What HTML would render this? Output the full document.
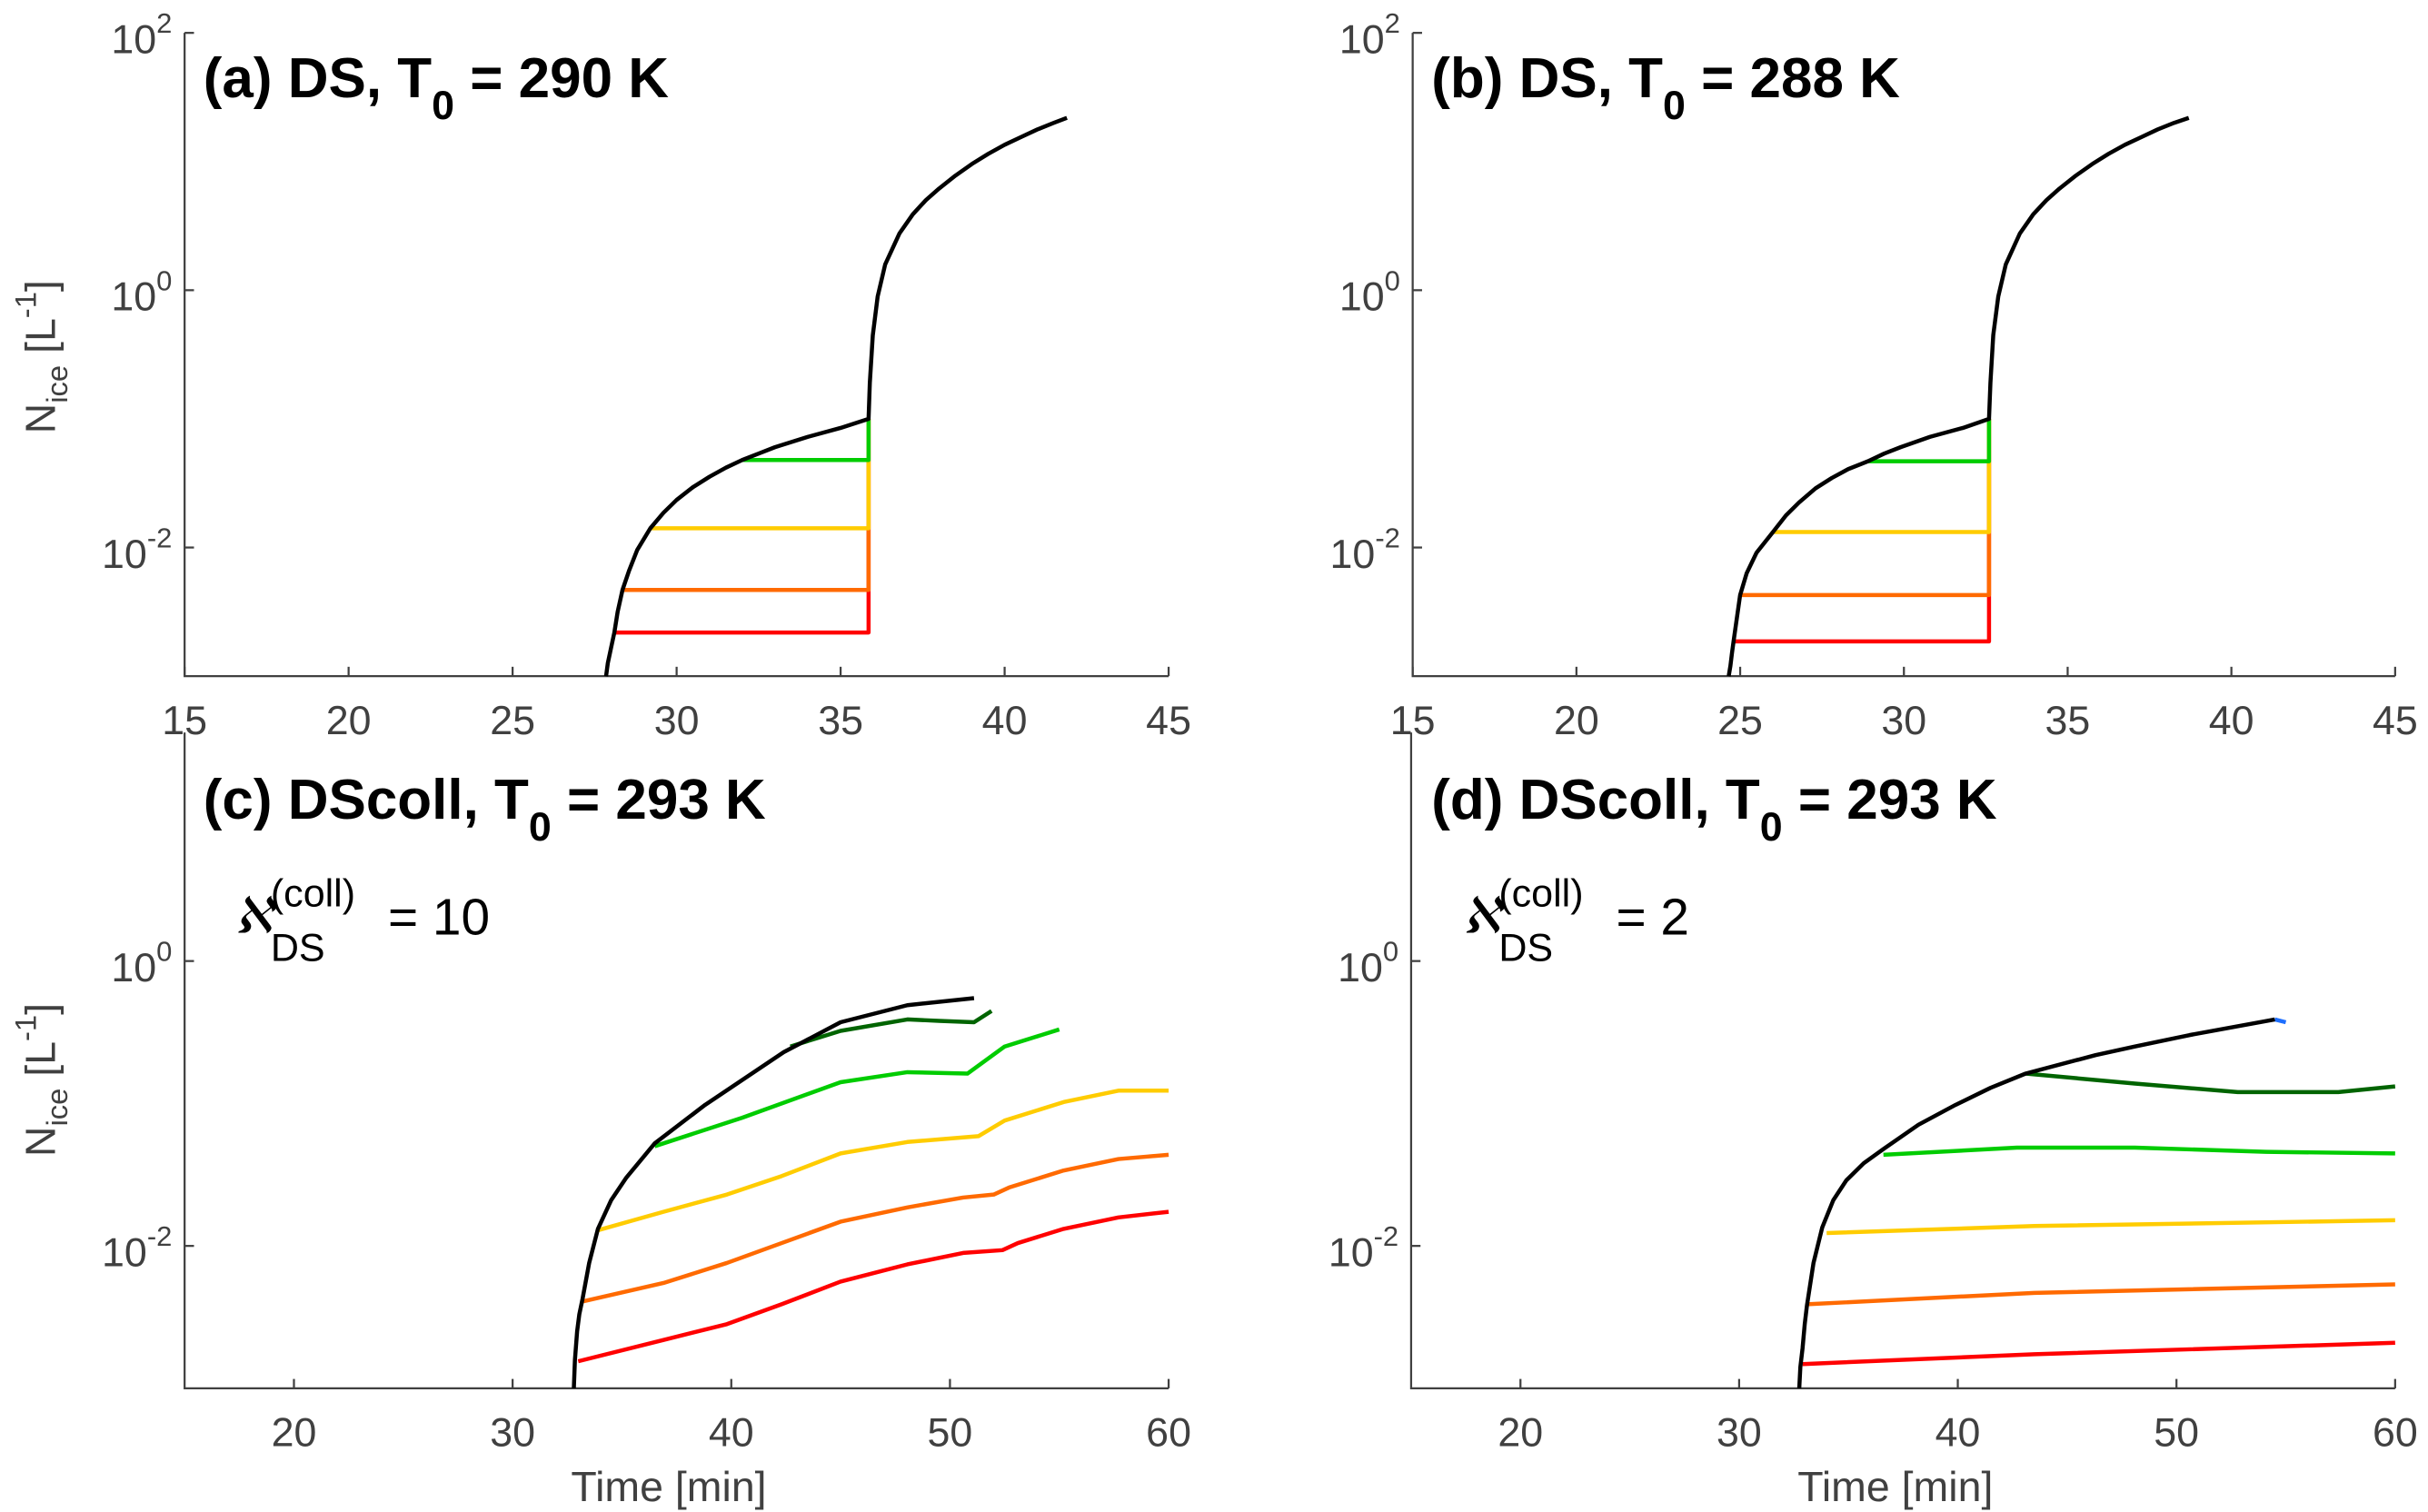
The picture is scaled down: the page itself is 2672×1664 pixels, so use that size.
<!DOCTYPE html>
<html><head><meta charset="utf-8"><style>
html,body{margin:0;padding:0;background:#fff;}
svg{display:block;}
text{font-family:"Liberation Sans",sans-serif;}
</style></head><body>
<svg id="fig" width="2672" height="1664" viewBox="0 0 1552 966" preserveAspectRatio="none" xmlns="http://www.w3.org/2000/svg"></svg>
<script>
// ---- data ----
const colors = ["#ff0000","#ff6a00","#ffcc00","#00cc00","#006400","#000000"];
// panel a
const aRedT=[28.1,35.85,35.85], aRedV=[-2.66,-2.66,-1.0];
const aOrT=[28.35,35.85,35.85], aOrV=[-2.33,-2.33,-1.0];
const aYeT=[29.2,35.85,35.85], aYeV=[-1.85,-1.85,-1.0];
const aGrT=[32.0,35.85,35.85], aGrV=[-1.32,-1.32,-1.0];
const aBkT=[27.85,27.9,28.0,28.1,28.2,28.35,28.55,28.8,29.2,29.6,30,30.5,31,31.5,32,32.5,33,34,35,35.85,35.89,35.98,36.13,36.36,36.79,37.2,37.6,38,38.5,39,39.5,40,40.5,41,41.5,41.9];
const aBkV=[-3,-2.9,-2.78,-2.66,-2.5,-2.33,-2.18,-2.02,-1.85,-1.73,-1.63,-1.53,-1.45,-1.38,-1.32,-1.27,-1.22,-1.14,-1.07,-1.0,-0.72,-0.35,-0.05,0.2,0.44,0.59,0.7,0.79,0.89,0.98,1.06,1.13,1.19,1.25,1.3,1.34];
// panel b
const bRedT=[24.8,32.6,32.6], bRedV=[-2.73,-2.73,-1.0];
const bOrT=[25.0,32.6,32.6], bOrV=[-2.37,-2.37,-1.0];
const bYeT=[26.0,32.6,32.6], bYeV=[-1.88,-1.88,-1.0];
const bGrT=[28.9,32.6,32.6], bGrV=[-1.33,-1.33,-1.0];
const bBkT=[24.65,24.7,24.75,24.8,24.9,25.0,25.2,25.5,26.0,26.4,26.8,27.3,27.8,28.3,28.9,29.4,29.9,30.8,31.8,32.6,32.64,32.73,32.88,33.11,33.54,33.95,34.35,34.75,35.25,35.75,36.25,36.75,37.25,37.75,38.25,38.7];
const bBkV=[-3,-2.92,-2.82,-2.73,-2.55,-2.37,-2.2,-2.04,-1.88,-1.75,-1.65,-1.54,-1.46,-1.39,-1.33,-1.27,-1.22,-1.14,-1.07,-1.0,-0.72,-0.35,-0.05,0.2,0.44,0.59,0.7,0.79,0.89,0.98,1.06,1.13,1.19,1.25,1.3,1.34];
// panel c
const cRedT=[33.0,36.9,39.8,42.3,45.0,48.05,50.6,52.4,53.1,55.2,57.7,60], cRedV=[-2.81,-2.66,-2.55,-2.41,-2.25,-2.13,-2.05,-2.03,-1.98,-1.88,-1.80,-1.76];
const cOrT=[33.2,36.9,39.8,42.3,45.0,48.05,50.6,52.0,52.7,55.2,57.7,60], cOrV=[-2.39,-2.26,-2.12,-1.98,-1.83,-1.73,-1.66,-1.64,-1.59,-1.47,-1.39,-1.36];
const cYeT=[33.9,36.9,39.8,42.3,45.0,48.05,51.3,52.5,55.2,57.7,60], cYeV=[-1.89,-1.76,-1.64,-1.51,-1.35,-1.27,-1.23,-1.12,-0.99,-0.91,-0.91];
const cGrT=[36.5,40.5,45.0,48.05,50.8,52.5,55.0], cGrV=[-1.30,-1.1,-0.85,-0.78,-0.79,-0.6,-0.48];
const cDgT=[42.7,45.0,48.05,49.5,51.1,51.9], cDgV=[-0.6,-0.49,-0.41,-0.42,-0.43,-0.35];
const cBkT=[32.8,32.85,32.95,33.05,33.2,33.5,33.9,34.5,35.2,36.5,38.8,42.4,45.0,48.05,51.1], cBkV=[-3.0,-2.8,-2.6,-2.48,-2.37,-2.12,-1.88,-1.68,-1.52,-1.28,-1.01,-0.64,-0.43,-0.31,-0.26];
// panel d
const dRedT=[32.9,43.5,60], dRedV=[-2.83,-2.76,-2.68];
const dOrT=[33.1,43.5,60], dOrV=[-2.41,-2.33,-2.27];
const dYeT=[34.0,43.5,60], dYeV=[-1.91,-1.86,-1.82];
const dGrT=[36.6,42.7,48.1,54.1,60], dGrV=[-1.36,-1.31,-1.31,-1.34,-1.35];
const dDgT=[43.1,48.1,52.8,57.4,60], dDgV=[-0.79,-0.86,-0.92,-0.92,-0.88];
const dBkT=[32.75,32.8,32.9,33.0,33.1,33.4,33.8,34.3,34.9,35.7,36.6,38.2,39.9,41.5,43.1,46.3,48.1,50.6,54.5], dBkV=[-3,-2.85,-2.72,-2.55,-2.42,-2.12,-1.87,-1.68,-1.54,-1.42,-1.32,-1.15,-1.01,-0.89,-0.79,-0.66,-0.6,-0.52,-0.41];
const dBlT=[54.5,55.0], dBlV=[-0.41,-0.43];
const xTicksTop=[15,20,25,30,35,40,45], xTicksBot=[20,30,40,50,60];
const yTicksTop=[-2,0,2], yTicksBot=[-2,0];

const NS="http://www.w3.org/2000/svg";
const svg=document.getElementById('fig');
function el(tag,attrs,parent){const e=document.createElementNS(NS,tag);for(const k in attrs)e.setAttribute(k,attrs[k]);(parent||svg).appendChild(e);return e;}

function panel(id,px0,px1,py0,py1,tmin,tmax,vmin,vmax,axTop,xticks,yticks,series,showXlabel,showYlabel){
  const g=el('g',{});
  
  
  const X=t=>px0+(t-tmin)/(tmax-tmin)*(px1-px0);
  const Y=v=>py0-(v-vmin)/(vmax-vmin)*(py0-py1);
  const ax=el('path',{d:`M${px0},${axTop}V${py0}H${px1}`,stroke:'#404040','stroke-width':1.3,fill:'none'},g);
  
  
  xticks.forEach(t=>{
    el('line',{x1:X(t),x2:X(t),y1:py0,y2:py0-6,stroke:'#404040','stroke-width':1.3},g);
    const tx=el('text',{x:X(t),y:py0+37,'font-size':26,fill:'#404040','text-anchor':'middle'},g);
    tx.textContent=t;
    
    
  });
  yticks.forEach(v=>{
    el('line',{x1:px0,x2:px0+6,y1:Y(v),y2:Y(v),stroke:'#404040','stroke-width':1.3},g);
    const tx=el('text',{x:px0-8,y:Y(v)+13,'font-size':26,fill:'#404040','text-anchor':'end'},g);
    tx.innerHTML='10<tspan dy="-13" font-size="18">'+v+'</tspan>';
    
    
  });
  series.forEach(s=>{
    const d=s.t.map((t,i)=>(i?'L':'M')+X(t).toFixed(1)+','+Y(s.v[i]).toFixed(1)).join('');
    const p=el('path',{d:d,stroke:s.c,'stroke-width':2.6,fill:'none','stroke-linejoin':'round'},g);
    
    
  });
  if(showXlabel){
    const tx=el('text',{x:(px0+px1)/2-5,y:py0+72,'font-size':27,fill:'#404040','text-anchor':'middle'},g);
    tx.textContent='Time [min]';
    
    
  }
  if(showYlabel){
    const cy=showYlabel;
    const tx=el('text',{x:0,y:0,'font-size':27,fill:'#404040','text-anchor':'middle',transform:`translate(35,${cy}) rotate(-90)`},g);
    tx.innerHTML='N<tspan dy="8" font-size="19">ice</tspan><tspan dy="-8"> [L</tspan><tspan dy="-12" font-size="19">-1</tspan><tspan dy="12">]</tspan>';
    
    
  }
  return g;
}
function S(t,v,c,n){return {t:t,v:v,c:c,n:n};}
panel('a',118,747,432,21,15,45,-3,2,21,xTicksTop,yTicksTop,[S(aRedT,aRedV,colors[0],'series-red'),S(aOrT,aOrV,colors[1],'series-orange'),S(aYeT,aYeV,colors[2],'series-yellow'),S(aGrT,aGrV,colors[3],'series-green'),S(aBkT,aBkV,colors[5],'series-black')],false,228);
panel('b',903,1531,432,21,15,45,-3,2,21,xTicksTop,yTicksTop,[S(bRedT,bRedV,colors[0],'series-red'),S(bOrT,bOrV,colors[1],'series-orange'),S(bYeT,bYeV,colors[2],'series-yellow'),S(bGrT,bGrV,colors[3],'series-green'),S(bBkT,bBkV,colors[5],'series-black')],false,false);
panel('c',118,747,887,432,15,60,-3,2,468,xTicksBot,yTicksBot,[S(cRedT,cRedV,colors[0],'series-red'),S(cOrT,cOrV,colors[1],'series-orange'),S(cYeT,cYeV,colors[2],'series-yellow'),S(cGrT,cGrV,colors[3],'series-green'),S(cDgT,cDgV,colors[4],'series-darkgreen'),S(cBkT,cBkV,colors[5],'series-black')],true,690);
panel('d',902,1531,887,432,15,60,-3,2,468,xTicksBot,yTicksBot,[S(dRedT,dRedV,colors[0],'series-red'),S(dOrT,dOrV,colors[1],'series-orange'),S(dYeT,dYeV,colors[2],'series-yellow'),S(dGrT,dGrV,colors[3],'series-green'),S(dDgT,dDgV,colors[4],'series-darkgreen'),S(dBlT,dBlV,'#1e6fff','series-blue'),S(dBkT,dBkV,colors[5],'series-black')],true,false);

function title(x,y,main,rest,name){
  const t=el('text',{x:x,y:y,'font-size':36,'font-weight':'bold',fill:'#000'});
  t.innerHTML=main+'T<tspan dy="14" font-size="26">0</tspan><tspan dy="-14">'+rest+'</tspan>';
  
  
}
title(130,62,'(a) DS, ',' = 290 K','panel-a-title');
title(915,62,'(b) DS, ',' = 288 K','panel-b-title');
title(130,523,'(c) DScoll, ',' = 293 K','panel-c-title');
title(915,523,'(d) DScoll, ',' = 293 K','panel-d-title');
function coll(x,val,name){
  const g=el('g',{});
  
  
  const a=el('text',{x:x,y:596,'font-size':32,fill:'#000','font-style':'italic','font-family':'DejaVu Serif, serif'},g);
  a.textContent='ℵ';
  const s=el('text',{x:x+23,y:579,'font-size':25,fill:'#000'},g);
  s.textContent='(coll)';
  const b=el('text',{x:x+23,y:614,'font-size':25,fill:'#000'},g);
  b.textContent='DS';
  const e=el('text',{x:x+98,y:597,'font-size':33,fill:'#000'},g);
  e.textContent='= '+val;
}
coll(150,'10','collision-label-c');
coll(935,'2','collision-label-d');
</script>
</body></html>
